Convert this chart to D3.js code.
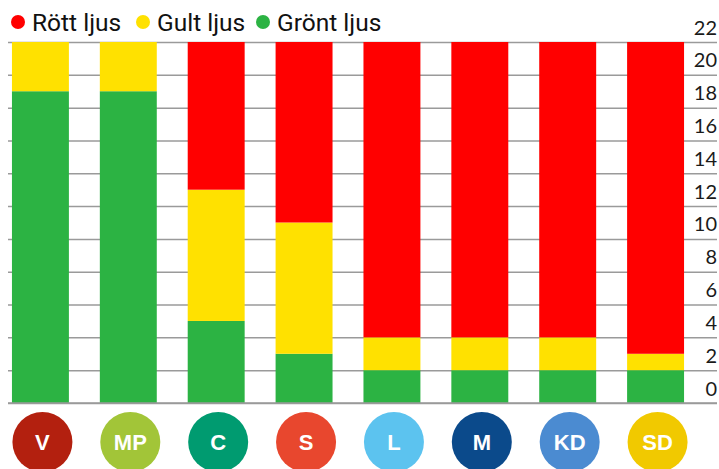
<!DOCTYPE html>
<html>
<head>
<meta charset="utf-8">
<script src="https://cdn.jsdelivr.net/npm/d3@7"></script>
<style>
body { margin: 0; background: #fff; }
#graph { width: 719px; height: 469px; }
</style>
</head>
<body>
<div id="graph"></div>
<script>
!(function(){
"use strict"
// data
var parties = ["V", "MP", "C", "S", "L", "M", "KD", "SD"]
var gront = [19, 19, 5, 3, 2, 2, 2, 2]
var gult = [3, 3, 8, 8, 2, 2, 2, 1]
var rott = [0, 0, 9, 11, 18, 18, 18, 19]
var partyColors = ["#b3200f", "#a2c538", "#009b70", "#e8472e", "#5cc3ef", "#0b4a8b", "#4b8bd1", "#f1c900"]
var yTicks = [0, 2, 4, 6, 8, 10, 12, 14, 16, 18, 20, 22]
var legendLabels = ["Rött ljus", "Gult ljus", "Grönt ljus"]

var colors = { rott: "#ff0000", gult: "#ffe100", gront: "#2cb343" }
var width = 719, height = 469
var left = 8, right = 717, top = 42, bottom = 403

var rows = parties.map(function(p, i){
	return { party: p, gront: gront[i], gult: gult[i], rott: rott[i], color: partyColors[i] }
})

var svg = d3.select("#graph").append("svg")
	.attr("width", width).attr("height", height)

var x = d3.scaleBand().domain(parties).range([left, 688])
	.paddingInner(0.352).paddingOuter(0.045)
var y = d3.scaleLinear().domain([0, 22]).range([bottom, top])

// grid + tick labels
var axis = svg.append("g")
	.attr("transform", "translate(" + right + ",0)")
	.call(d3.axisRight(y).tickValues(yTicks).tickSize(-(right - left)).tickFormat(d3.format("d")))
axis.select(".domain").remove()
axis.selectAll(".tick line").attr("stroke", "#9a9a9a").attr("stroke-width", 1.5)
axis.selectAll(".tick text")
	.attr("x", 0).attr("dy", "-0.4em")
	.attr("text-anchor", "end")
	.attr("fill", "#1a1a1a")
	.style("font-family", "Lato, Roboto, sans-serif")
	.style("font-size", "20px")

var stack = d3.stack().keys(["gront", "gult", "rott"])(rows)
svg.append("g").selectAll("g")
	.data(stack).enter().append("g")
	.attr("fill", function(d){ return colors[d.key] })
	.selectAll("rect")
	.data(function(d){ return d }).enter().append("rect")
	.attr("x", function(d){ return x(d.data.party) })
	.attr("width", x.bandwidth())
	.attr("y", function(d){ return y(d[1]) })
	.attr("height", function(d){ return y(d[0]) - y(d[1]) })

// baseline on top of the bars
svg.append("line")
	.attr("x1", left).attr("x2", right)
	.attr("y1", y(0)).attr("y2", y(0))
	.attr("stroke", "#9a9a9a").attr("stroke-width", 1.5)

// party badges
var badge = svg.append("g").selectAll("g")
	.data(rows).enter().append("g")
	.attr("transform", function(d){ return "translate(" + (x(d.party) + x.bandwidth() / 2 + 2) + ",442)" })
badge.append("circle").attr("r", 30).attr("fill", function(d){ return d.color })
badge.append("text")
	.attr("text-anchor", "middle").attr("dy", "0.36em")
	.attr("fill", "#fff")
	.style("font-family", "'Liberation Sans', Arial, sans-serif")
	.style("font-weight", "bold")
	.style("font-size", "22px")
	.text(function(d){ return d.party })

// legend
var legendX = [18, 143, 263]
var legendKeys = ["rott", "gult", "gront"]
var legend = svg.append("g").selectAll("g")
	.data(legendLabels).enter().append("g")
	.attr("transform", function(d, i){ return "translate(" + legendX[i] + ",22)" })
legend.append("circle").attr("r", 7).attr("fill", function(d, i){ return colors[legendKeys[i]] })
legend.append("text")
	.attr("x", 14).attr("dy", "0.36em")
	.attr("fill", "#111")
	.style("font-family", "Roboto, 'Open Sans', sans-serif")
	.style("font-size", "24.5px")
	.text(function(d){ return d })
}());
</script>
</body>
</html>
